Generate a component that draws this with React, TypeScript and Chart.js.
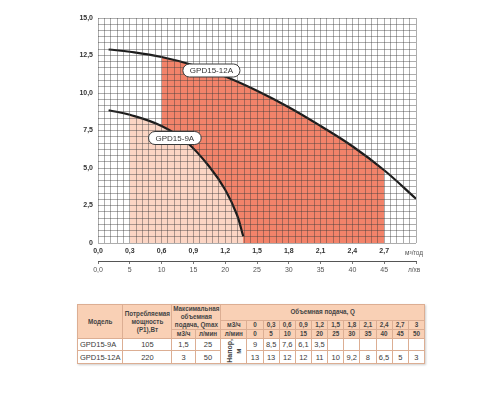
import React, { useEffect, useRef } from 'react';
import { Chart, registerables } from 'chart.js';

Chart.register(...registerables);

// ---- Chart data ----
const FLOW_12A = [0.1, 0.3, 0.6, 0.9, 1.2, 1.5, 1.8, 2.1, 2.4, 2.7, 3.0];
const HEAD_12A = [12.9, 12.75, 12.4, 11.85, 11.1, 10.15, 9.05, 7.8, 6.45, 4.85, 2.95];
const FLOW_9A = [0.1, 0.3, 0.6, 0.84, 1.06, 1.2, 1.31, 1.37];
const HEAD_9A = [8.85, 8.55, 7.8, 6.7, 5.0, 3.55, 1.9, 0.45];
const WORK_RANGE_12A = [0.6, 2.7];
const WORK_RANGE_9A = [0.3, 1.37];
const SERIES_NAMES = ['GPD15-9A', 'GPD15-12A'];

const X_TICK_LABELS = ['0,0', '0,3', '0,6', '0,9', '1,2', '1,5', '1,8', '2,1', '2,4', '2,7'];
const X2_TICK_LABELS = ['0,0', '5', '10', '15', '20', '25', '30', '35', '40', '45'];
const Y_TICK_LABELS = ['0', '2,5', '5,0', '7,5', '10,0', '12,5', '15,0'];
const X_MAX = 3.0;
const X2_MAX = 50;
const Y_MAX = 15;
const X_UNIT = 'м³/год';
const X2_UNIT = 'л/хв';

// ---- Table data ----
const TABLE_MODELS = ['GPD15-9A', 'GPD15-12A'];
const TABLE_POWER = ['105', '220'];
const TABLE_QMAX_M3H = ['1,5', '3'];
const TABLE_QMAX_LMIN = ['25', '50'];
const TABLE_Q_M3H = ['0', '0,3', '0,6', '0,9', '1,2', '1,5', '1,8', '2,1', '2,4', '2,7', '3'];
const TABLE_Q_LMIN = ['0', '5', '10', '15', '20', '25', '30', '35', '40', '45', '50'];
const TABLE_HEAD_9A = ['9', '8,5', '7,6', '6,1', '3,5', '', '', '', '', '', ''];
const TABLE_HEAD_12A = ['13', '13', '12', '12', '11', '10', '9,2', '8', '6,5', '5', '3'];

// ---- styles ----
const X_MAJOR = 0.3;
const X_MINOR_PER_MAJOR = 5;
const Y_MAJOR = 2.5;
const Y_MINOR_PER_MAJOR = 6;
const X2_STEP = 5;
const LABEL_POS = [
  { x: 0.725, y: 7.0 },
  { x: 1.07, y: 11.5 },
];
const FONT = "'Liberation Sans', Arial, sans-serif";
const DARK_FILL = '#f2836a';
const LIGHT_FILL = '#fbd5c4';
const GRID = 'rgba(60,60,60,0.42)';

export default function App() {
  const ref = useRef<HTMLCanvasElement | null>(null);

  useEffect(() => {
    if (!ref.current) return;
    const eps = 1e-6;
    const xMinor = X_MAJOR / X_MINOR_PER_MAJOR;
    const yMinor = Y_MAJOR / Y_MINOR_PER_MAJOR;

    const overlay = {
      id: 'overlay',
      afterDraw(chart: any) {
        const ctx = chart.ctx;
        const xs = chart.scales.x;
        const x2 = chart.scales.x2;
        const ys = chart.scales.y;
        const area = chart.chartArea;
        ctx.save();
        ctx.fillStyle = '#555';
        ctx.font = `6.5px ${FONT}`;
        ctx.textAlign = 'left';
        ctx.textBaseline = 'middle';
        ctx.fillText(X_UNIT, area.right - 11, xs.top + 10);
        ctx.fillText(X2_UNIT, area.right - 8, x2.top + 9.5);
        ctx.font = `8px ${FONT}`;
        SERIES_NAMES.forEach((name, i) => {
          const cx = xs.getPixelForValue(LABEL_POS[i].x);
          const cy = ys.getPixelForValue(LABEL_POS[i].y);
          const w = ctx.measureText(name).width + 14;
          const h = 13;
          ctx.beginPath();
          ctx.roundRect(cx - w / 2, cy - h / 2, w, h, 6.5);
          ctx.fillStyle = '#fff';
          ctx.fill();
          ctx.lineWidth = 1;
          ctx.strokeStyle = '#3a3a3a';
          ctx.stroke();
          ctx.fillStyle = '#333';
          ctx.textAlign = 'center';
          ctx.fillText(name, cx, cy + 0.5);
        });
        ctx.restore();
      },
    };

    const lineDs = (name: string, xs: number[], ys: number[], fillColor: string, range: number[]) => ({
      label: name,
      data: xs.map((x, i) => ({ x, y: ys[i] })),
      borderColor: '#1b1b1b',
      borderWidth: 2.2,
      pointRadius: 0,
      tension: 0.4,
      fill: 'origin',
      backgroundColor: fillColor,
      segment: {
        backgroundColor: (c: any) =>
          c.p0.parsed.x >= range[0] - eps && c.p1.parsed.x <= range[1] + eps ? fillColor : 'rgba(0,0,0,0)',
      },
    });

    const chart = new Chart(ref.current, {
      type: 'line',
      data: {
        datasets: [
          lineDs(SERIES_NAMES[0], FLOW_9A, HEAD_9A, LIGHT_FILL, WORK_RANGE_9A),
          lineDs(SERIES_NAMES[1], FLOW_12A, HEAD_12A, DARK_FILL, WORK_RANGE_12A),
        ],
      },
      options: {
        animation: false,
        responsive: false,
        maintainAspectRatio: false,
        layout: { padding: { left: 0, right: 84, top: 18, bottom: 12 } },
        plugins: {
          legend: { display: false },
          tooltip: { enabled: false },
        },
        scales: {
          x: {
            type: 'linear',
            position: 'bottom',
            min: 0,
            max: X_MAX,
            afterBuildTicks: (s: any) => {
              const n = Math.round(X_MAX / xMinor);
              s.ticks = Array.from({ length: n + 1 }, (_, i) => ({ value: i * xMinor }));
            },
            afterFit: (s: any) => {
              s.height = 18;
            },
            grid: { color: GRID, lineWidth: 1, drawTicks: false, z: 1 },
            border: { display: false },
            ticks: {
              autoSkip: false,
              maxRotation: 0,
              minRotation: 0,
              padding: 4,
              color: '#333',
              font: { family: FONT, size: 7, weight: 'bold' },
              callback: (v: any) => {
                const i = Math.round(Number(v) / xMinor);
                return i % X_MINOR_PER_MAJOR === 0 ? X_TICK_LABELS[i / X_MINOR_PER_MAJOR] ?? '' : '';
              },
            },
          },
          x2: {
            type: 'linear',
            position: 'bottom',
            min: 0,
            max: X2_MAX,
            afterBuildTicks: (s: any) => {
              const n = Math.round(X2_MAX / X2_STEP);
              s.ticks = Array.from({ length: n + 1 }, (_, i) => ({ value: i * X2_STEP }));
            },
            afterFit: (s: any) => {
              s.height = 17;
            },
            grid: { display: true, drawOnChartArea: false, drawTicks: true, tickLength: 3, color: '#777' },
            border: { display: true, color: '#555', width: 1 },
            ticks: {
              autoSkip: false,
              maxRotation: 0,
              minRotation: 0,
              padding: 2,
              color: '#555',
              font: { family: FONT, size: 7 },
              callback: (v: any) => {
                const i = Math.round(Number(v) / X2_STEP);
                return X2_TICK_LABELS[i] ?? '';
              },
            },
          },
          y: {
            type: 'linear',
            min: 0,
            max: Y_MAX,
            afterBuildTicks: (s: any) => {
              const n = Math.round(Y_MAX / yMinor);
              s.ticks = Array.from({ length: n + 1 }, (_, i) => ({ value: i * yMinor }));
            },
            afterFit: (s: any) => {
              s.width = 98;
            },
            grid: { color: GRID, lineWidth: 1, drawTicks: false, z: 1 },
            border: { display: false },
            ticks: {
              autoSkip: false,
              padding: 5,
              color: '#333',
              font: { family: FONT, size: 7, weight: 'bold' },
              callback: (v: any) => {
                const i = Math.round(Number(v) / yMinor);
                return i % Y_MINOR_PER_MAJOR === 0 ? Y_TICK_LABELS[i / Y_MINOR_PER_MAJOR] ?? '' : '';
              },
            },
          },
        },
      } as any,
      plugins: [overlay],
    } as any);
    return () => chart.destroy();
  }, []);

  const border = '1px solid #dcae93';
  const headBg = '#f9d0b5';
  const td: React.CSSProperties = {
    border,
    padding: 0,
    textAlign: 'center',
    verticalAlign: 'middle',
    fontSize: 7.5,
    lineHeight: '9px',
    color: '#3a3a3a',
    overflow: 'hidden',
    whiteSpace: 'nowrap',
  };
  const th: React.CSSProperties = {
    ...td,
    background: headBg,
    fontSize: 6.3,
    lineHeight: '8px',
    fontWeight: 'bold',
    color: '#444',
    whiteSpace: 'normal',
  };
  const colW = [45.4, 49, 23.3, 25.7, 26];
  const valW = 177.6 / TABLE_Q_M3H.length;

  return (
    <div style={{ position: 'absolute', left: 0, top: 0, width: 500, height: 400, background: '#fff' }}>
      <canvas ref={ref} width={500} height={290} style={{ position: 'absolute', left: 0, top: 0 }} />
      <table
        style={{
          position: 'absolute',
          left: 77,
          top: 304,
          width: 347,
          borderCollapse: 'collapse',
          tableLayout: 'fixed',
          fontFamily: FONT,
          border: '1.5px solid #c58e70',
          boxShadow: '1px 1px 2px rgba(0,0,0,0.2)',
        }}
      >
        <colgroup>
          {colW.map((w, i) => (
            <col key={'c' + i} style={{ width: w }} />
          ))}
          {TABLE_Q_M3H.map((_, i) => (
            <col key={'v' + i} style={{ width: valW }} />
          ))}
        </colgroup>
        <tbody>
          <tr style={{ height: 15.7 }}>
            <td style={th} rowSpan={3}>Модель</td>
            <td style={th} rowSpan={3}>
              Потребляемая
              <br />
              мощность
              <br />
              (P1),Вт
            </td>
            <td style={th} rowSpan={2} colSpan={2}>
              Максимальная
              <br />
              объемная
              <br />
              подача, Qmax
            </td>
            <td style={th} colSpan={1 + TABLE_Q_M3H.length}>
              Объемная подача, Q
            </td>
          </tr>
          <tr style={{ height: 9 }}>
            <td style={th}>м3/ч</td>
            {TABLE_Q_M3H.map((v, i) => (
              <td key={i} style={th}>
                {v}
              </td>
            ))}
          </tr>
          <tr style={{ height: 8.6 }}>
            <td style={th}>м3/ч</td>
            <td style={th}>л/мин</td>
            <td style={th}>л/мин</td>
            {TABLE_Q_LMIN.map((v, i) => (
              <td key={i} style={th}>
                {v}
              </td>
            ))}
          </tr>
          {[TABLE_HEAD_9A, TABLE_HEAD_12A].map((row, r) => (
            <tr key={r} style={{ height: 12.3 }}>
              <td style={{ ...td, textAlign: 'left', paddingLeft: 2 }}>{TABLE_MODELS[r]}</td>
              <td style={td}>{TABLE_POWER[r]}</td>
              <td style={td}>{TABLE_QMAX_M3H[r]}</td>
              <td style={td}>{TABLE_QMAX_LMIN[r]}</td>
              {r === 0 && (
                <td style={{ ...th, background: '#fff' }} rowSpan={2}>
                  <div
                    style={{
                      writingMode: 'vertical-rl',
                      transform: 'rotate(180deg)',
                      margin: '0 auto',
                      fontSize: 7,
                      lineHeight: '9px',
                    }}
                  >
                    Напор,
                    <br />м
                  </div>
                </td>
              )}
              {row.map((v, i) => (
                <td key={i} style={td}>
                  {v}
                </td>
              ))}
            </tr>
          ))}
        </tbody>
      </table>
    </div>
  );
}
